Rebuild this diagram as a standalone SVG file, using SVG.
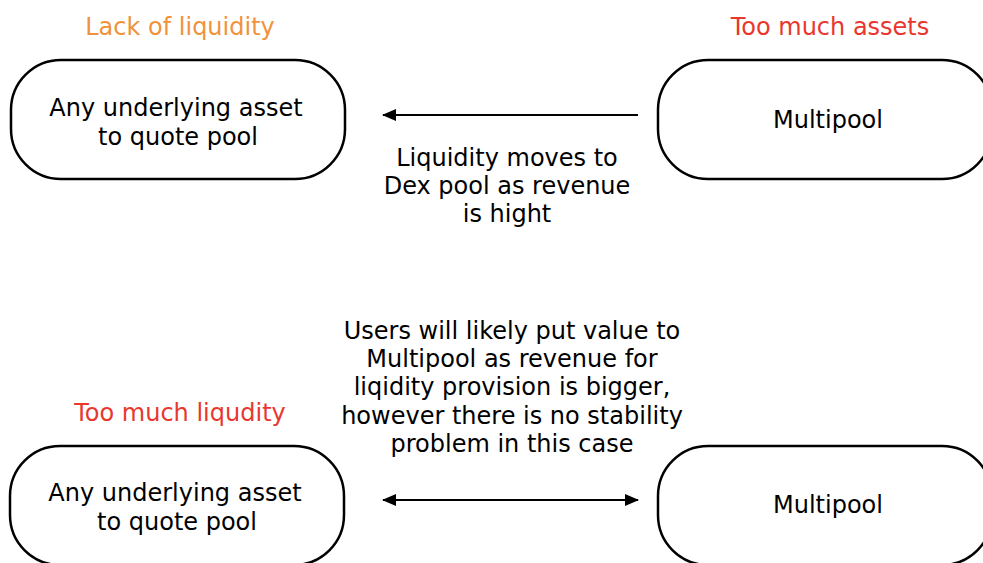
<svg xmlns="http://www.w3.org/2000/svg" width="983" height="563" viewBox="0 0 983 563">
<style>
text{font-family:"DejaVu Sans","Noto Sans",sans-serif;font-size:24px;text-anchor:middle;fill:#000}
.node{fill:#fff;stroke:#000;stroke-width:2.5}
.orange{fill:#f0923b}
.red{fill:#e8372d}
.edge{stroke:#000;stroke-width:2.2;fill:none}
</style>
<defs>
<marker id="ah" viewBox="0 0 14 12" refX="13" refY="6" markerWidth="14" markerHeight="12" markerUnits="userSpaceOnUse" orient="auto-start-reverse">
<path d="M0,0 L14,6 L0,12 Z" fill="#000"/>
</marker>
</defs>
<rect width="983" height="563" fill="#fff"/>
<text class="orange" x="180" y="35">Lack of liquidity</text>
<text class="red" x="830" y="35">Too much assets</text>
<text class="red" x="180" y="421">Too much liqudity</text>
<g id="node-top-left">
<rect class="node" x="11" y="60" width="334" height="119" rx="50"/>
<text x="176" y="116">Any underlying asset</text>
<text x="178" y="145">to quote pool</text>
</g>
<g id="node-top-right">
<rect class="node" x="658" y="60" width="334" height="119" rx="50"/>
<text x="828" y="128">Multipool</text>
</g>
<g id="node-bottom-left">
<rect class="node" x="10" y="446" width="334" height="119" rx="50"/>
<text x="175" y="501">Any underlying asset</text>
<text x="177" y="530">to quote pool</text>
</g>
<g id="node-bottom-right">
<rect class="node" x="658" y="446" width="334" height="119" rx="50"/>
<text x="828" y="513">Multipool</text>
</g>
<g id="connectors">
<line class="edge" x1="638" y1="115" x2="383" y2="115" marker-end="url(#ah)"/>
<line class="edge" x1="383" y1="500" x2="638" y2="500" marker-start="url(#ah)" marker-end="url(#ah)"/>
<text x="507" y="166">Liquidity moves to</text>
<text x="507" y="194">Dex pool as revenue</text>
<text x="507" y="222">is hight</text>
<text x="512" y="339">Users will likely put value to</text>
<text x="512" y="367">Multipool as revenue for</text>
<text x="512" y="395">liqidity provision is bigger,</text>
<text x="512" y="424">however there is no stability</text>
<text x="512" y="452">problem in this case</text>
</g>
</svg>
